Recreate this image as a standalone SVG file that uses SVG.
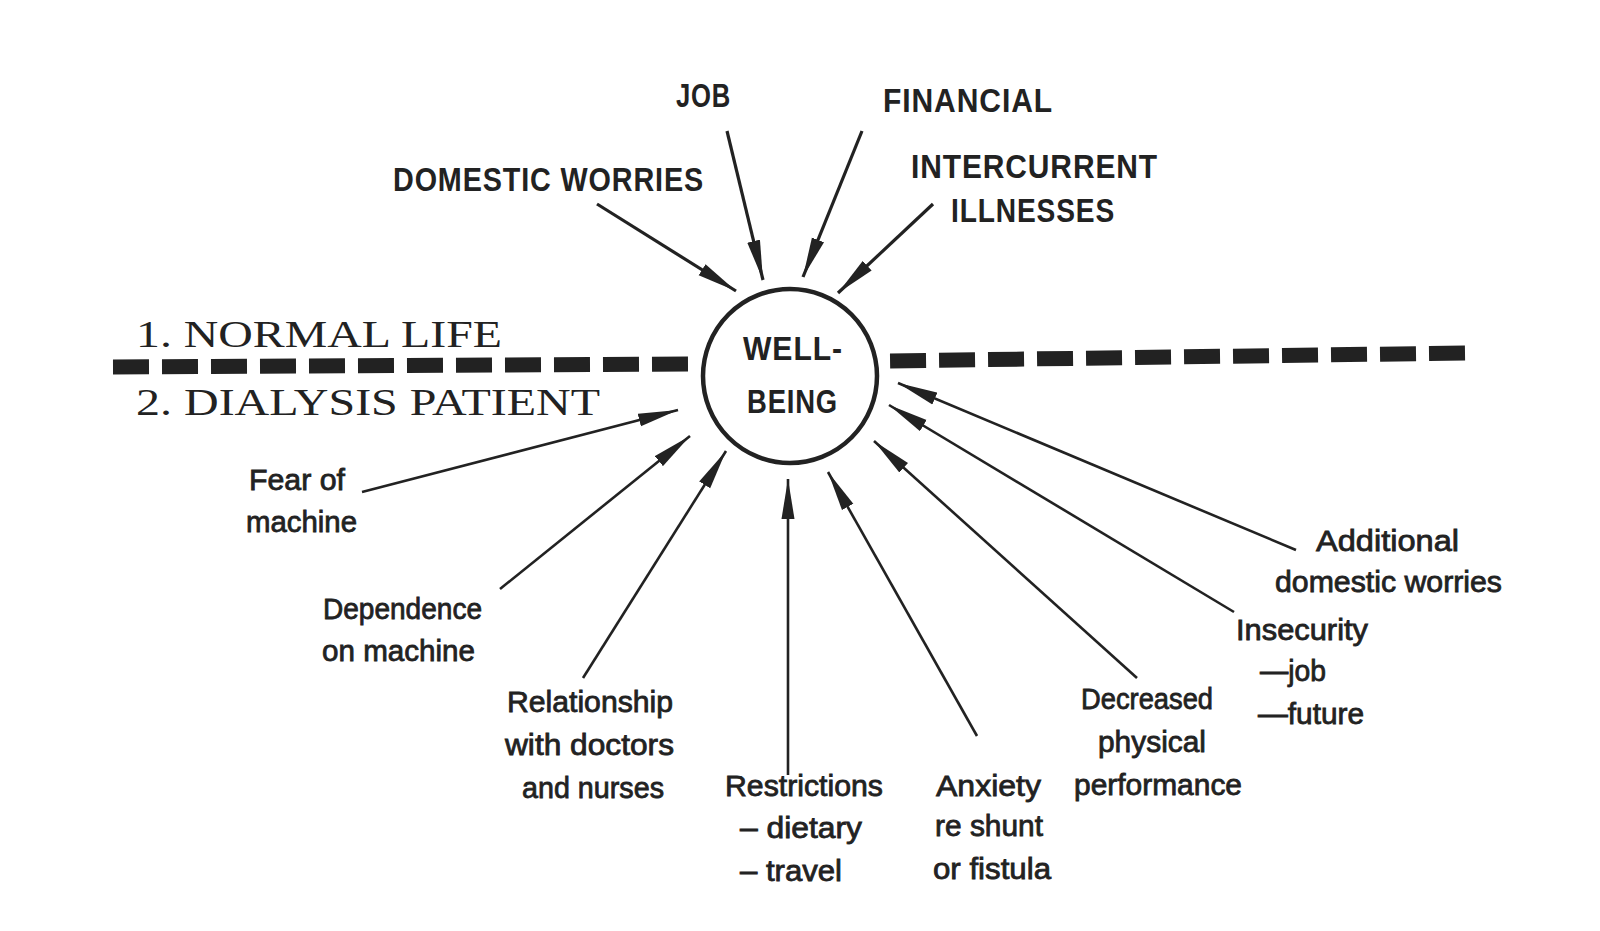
<svg xmlns="http://www.w3.org/2000/svg" width="1600" height="931" viewBox="0 0 1600 931">
<defs>
<style>
.caps{font-family:"Liberation Sans","DejaVu Sans",sans-serif;font-size:33px;font-weight:bold;fill:#222;letter-spacing:1px}
.lab{font-family:"Liberation Sans","DejaVu Sans",sans-serif;font-size:30px;fill:#222;stroke:#222;stroke-width:0.8}
.ser{font-family:"Liberation Serif","DejaVu Serif",serif;font-size:37px;fill:#222}
.arr{stroke:#222;stroke-width:2.6;fill:none;marker-end:url(#ah)}
.arrt{stroke:#222;stroke-width:3.2;fill:none;marker-end:url(#ah)}
.dash{stroke:#222;stroke-width:15;stroke-dasharray:36 13;fill:none}
</style>
<marker id="ah" markerUnits="userSpaceOnUse" markerWidth="40" markerHeight="14" refX="40" refY="7" orient="auto">
<path d="M0,0.5 L40,7 L0,13.5 Z" fill="#222"/>
</marker>
</defs>
<rect width="1600" height="931" fill="#fff"/>
<g id="divider">
<line class="dash" x1="113" y1="367" x2="700" y2="364"/>
<line class="dash" x1="1465" y1="353" x2="882" y2="361"/>
<text class="ser" x="136" y="347" textLength="366" lengthAdjust="spacingAndGlyphs">1. NORMAL LIFE</text>
<text class="ser" x="136" y="415" textLength="464" lengthAdjust="spacingAndGlyphs">2. DIALYSIS PATIENT</text>
</g>
<g id="connectors">
<line class="arrt" x1="597" y1="204" x2="736" y2="291"/>
<line class="arrt" x1="727" y1="131" x2="763" y2="280"/>
<line class="arrt" x1="862" y1="131" x2="803" y2="277"/>
<line class="arrt" x1="933" y1="204" x2="838" y2="293"/>
<line class="arr" x1="362" y1="492" x2="678" y2="410"/>
<line class="arr" x1="500" y1="589" x2="690" y2="436"/>
<line class="arr" x1="583" y1="678" x2="726" y2="451"/>
<line class="arr" x1="788" y1="775" x2="788" y2="479"/>
<line class="arr" x1="977" y1="736" x2="828" y2="472"/>
<line class="arr" x1="1137" y1="678" x2="874" y2="441"/>
<line class="arr" x1="1234" y1="612" x2="889" y2="405"/>
<line class="arr" x1="1296" y1="550" x2="898" y2="383"/>
</g>
<g id="wellbeing">
<circle cx="790" cy="376" r="87" fill="#fff" stroke="#222" stroke-width="4.5"/>
<text class="caps" x="743" y="360" textLength="100" lengthAdjust="spacingAndGlyphs">WELL-</text>
<text class="caps" x="747" y="413" textLength="91" lengthAdjust="spacingAndGlyphs">BEING</text>
</g>
<g id="job"><text class="caps" x="676" y="107" textLength="55" lengthAdjust="spacingAndGlyphs">JOB</text></g>
<g id="financial"><text class="caps" x="883" y="112" textLength="170" lengthAdjust="spacingAndGlyphs">FINANCIAL</text></g>
<g id="domestic"><text class="caps" x="393" y="191" textLength="311" lengthAdjust="spacingAndGlyphs">DOMESTIC WORRIES</text></g>
<g id="intercurrent">
<text class="caps" x="911" y="178" textLength="247" lengthAdjust="spacingAndGlyphs">INTERCURRENT</text>
<text class="caps" x="951" y="222" textLength="164" lengthAdjust="spacingAndGlyphs">ILLNESSES</text>
</g>
<g id="fear">
<text class="lab" x="249" y="490" textLength="96" lengthAdjust="spacingAndGlyphs">Fear of</text>
<text class="lab" x="246" y="532" textLength="111" lengthAdjust="spacingAndGlyphs">machine</text>
</g>
<g id="dependence">
<text class="lab" x="323" y="619" textLength="159" lengthAdjust="spacingAndGlyphs">Dependence</text>
<text class="lab" x="322" y="661" textLength="153" lengthAdjust="spacingAndGlyphs">on machine</text>
</g>
<g id="relationship">
<text class="lab" x="507" y="712" textLength="166" lengthAdjust="spacingAndGlyphs">Relationship</text>
<text class="lab" x="505" y="755" textLength="169" lengthAdjust="spacingAndGlyphs">with doctors</text>
<text class="lab" x="522" y="798" textLength="142" lengthAdjust="spacingAndGlyphs">and nurses</text>
</g>
<g id="restrictions">
<text class="lab" x="725" y="796" textLength="158" lengthAdjust="spacingAndGlyphs">Restrictions</text>
<text class="lab" x="740" y="838" textLength="122" lengthAdjust="spacingAndGlyphs">– dietary</text>
<text class="lab" x="740" y="881" textLength="102" lengthAdjust="spacingAndGlyphs">– travel</text>
</g>
<g id="anxiety">
<text class="lab" x="936" y="796" textLength="105" lengthAdjust="spacingAndGlyphs">Anxiety</text>
<text class="lab" x="935" y="836" textLength="108" lengthAdjust="spacingAndGlyphs">re shunt</text>
<text class="lab" x="933" y="879" textLength="118" lengthAdjust="spacingAndGlyphs">or fistula</text>
</g>
<g id="decreased">
<text class="lab" x="1081" y="709" textLength="132" lengthAdjust="spacingAndGlyphs">Decreased</text>
<text class="lab" x="1098" y="752" textLength="108" lengthAdjust="spacingAndGlyphs">physical</text>
<text class="lab" x="1074" y="795" textLength="168" lengthAdjust="spacingAndGlyphs">performance</text>
</g>
<g id="insecurity">
<text class="lab" x="1236" y="640" textLength="132" lengthAdjust="spacingAndGlyphs">Insecurity</text>
<text class="lab" x="1260" y="681" textLength="66" lengthAdjust="spacingAndGlyphs">—job</text>
<text class="lab" x="1258" y="724" textLength="106" lengthAdjust="spacingAndGlyphs">—future</text>
</g>
<g id="additional">
<text class="lab" x="1316" y="551" textLength="143" lengthAdjust="spacingAndGlyphs">Additional</text>
<text class="lab" x="1275" y="592" textLength="227" lengthAdjust="spacingAndGlyphs">domestic worries</text>
</g>
</svg>
